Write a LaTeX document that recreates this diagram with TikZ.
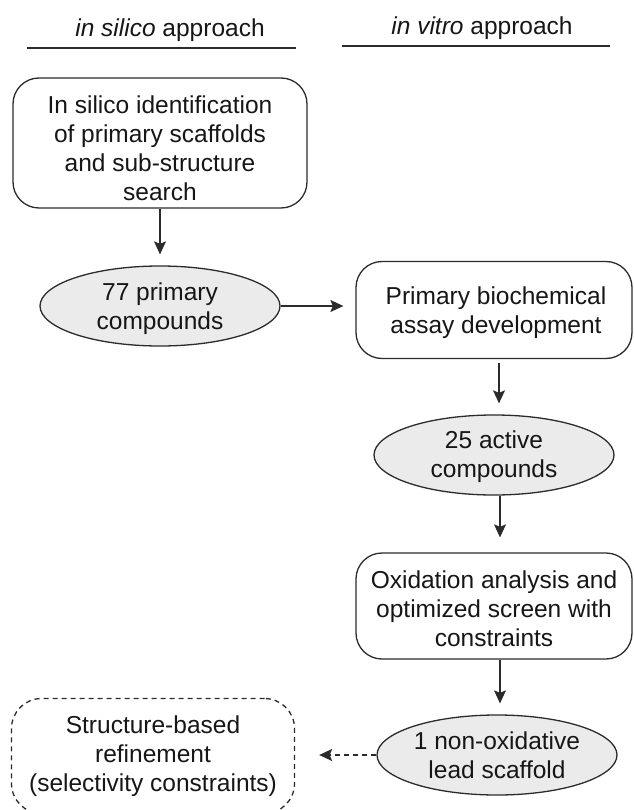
\documentclass[tikz,border=0pt]{standalone}
\usepackage{fontspec}
\setmainfont{Liberation Sans}
\usetikzlibrary{shapes.geometric,arrows.meta}
\definecolor{ln}{HTML}{2B2B2B}
\definecolor{fl}{HTML}{EBEBEB}
\definecolor{tx}{HTML}{161616}
\begin{document}
\begin{tikzpicture}[x=1pt,y=-1pt,
  every node/.style={font=\fontsize{24.5}{29}\selectfont, text=tx, align=center, inner sep=0pt},
  box/.style={draw=ln, line width=1.3pt, rounded corners=26pt},
  oval/.style={ellipse, draw=ln, fill=fl, line width=1.3pt, minimum width=240pt, minimum height=80pt},
  arr/.style={draw=ln, line width=1.3pt, -{Stealth[length=13pt,width=12pt,inset=2.5pt]}},
  rule/.style={draw=ln, line width=2.6pt}]
\clip (0,0) rectangle (633,810);
\node (h1) at (170,30) {\textit{in silico} approach};
\node (h2) at (482,28) {\textit{in vitro} approach};
\draw[rule] (27,48) -- (296,48);
\draw[rule] (342,46) -- (610,46);

\node[box, minimum width=294pt, minimum height=130pt] (A) at (160,143) {};
\node[yshift=-5pt] (At) at (A) {In silico identification\\of primary scaffolds\\and sub-structure\\search};
\node[oval] (B) at (160,306) {};
\node[yshift=-3pt] (Bt) at (B) {77 primary\\compounds};
\node[box, minimum width=276pt, minimum height=97pt] (C) at (494,310) {};
\node[yshift=-3pt] (Ct) at ([xshift=2pt]C.center) {Primary biochemical\\assay development};
\node[oval] (D) at (494,455) {};
\node[yshift=-2pt] (Dt) at (D) {25 active\\compounds};
\node[box, minimum width=276pt, minimum height=106pt] (E) at (494,606) {};
\node[yshift=-3pt] (Et) at (E) {Oxidation analysis and\\optimized screen with\\constraints};
\node[oval] (F) at (497,755) {1 non-oxidative\\lead scaffold};
\node[box, dashed, dash pattern=on 5pt off 4pt, rounded corners=30pt,
  minimum width=283pt, minimum height=115pt] (G) at (153,756)
  {Structure-based\\refinement\\(selectivity constraints)};

\draw[arr, shorten >=11pt] (A.south) -- (B.north);
\draw[arr, shorten >=12pt] (B.east) -- (B.east -| C.west);
\draw[arr, shorten <=4pt, shorten >=11pt] ([xshift=5pt]C.south) -- ([xshift=5pt]D.north);
\draw[arr, shorten >=15pt] ([xshift=6pt]D.south) -- ([xshift=6pt]E.north);
\draw[arr, shorten >=11pt] ([xshift=6pt]E.south) -- ([xshift=3pt]F.north);
\draw[arr, dash pattern=on 5pt off 4pt, shorten >=24pt] (F.west) -- (F.west -| G.east);
\end{tikzpicture}
\end{document}
